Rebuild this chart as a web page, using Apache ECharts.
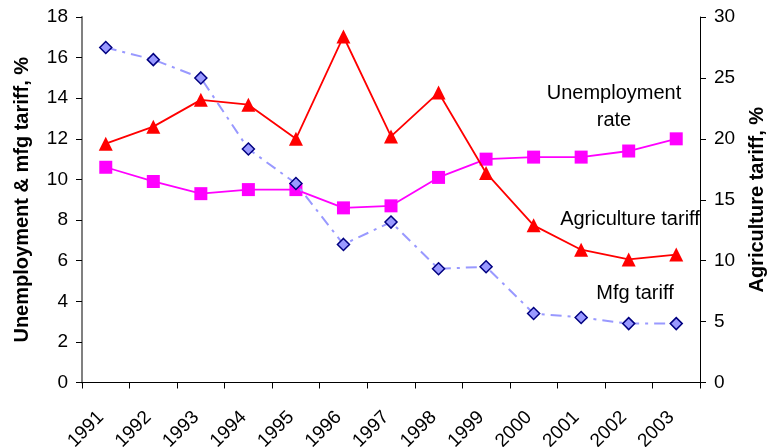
<!DOCTYPE html>
<html>
<head>
<meta charset="utf-8">
<script src="https://cdn.jsdelivr.net/npm/echarts@6/dist/echarts.min.js"></script>
<style>
  html, body { margin: 0; padding: 0; background: #fff; }
  #chart { width: 768px; height: 447px; }
</style>
</head>
<body>
<div id="chart"></div>
<script>
// Years on the category axis
const years = ['1991', '1992', '1993', '1994', '1995', '1996', '1997',
               '1998', '1999', '2000', '2001', '2002', '2003'];

// Unemployment rate, % (left axis)
const unemploymentRate = [10.6, 9.9, 9.3, 9.5, 9.5, 8.6, 8.7, 10.1, 11.0, 11.1, 11.1, 11.4, 12.0];

// Agriculture tariff, % (right axis)
const agricultureTariff = [19.6, 21.0, 23.2, 22.8, 20.0, 28.4, 20.2, 23.8, 17.2, 12.9, 10.9, 10.1, 10.5];

// Manufacturing tariff, % (left axis)
const mfgTariff = [16.5, 15.9, 15.0, 11.5, 9.8, 6.8, 7.9, 5.6, 5.7, 3.4, 3.2, 2.9, 2.9];

const FONT = '"Liberation Sans", Arial, sans-serif';

const chart = echarts.init(document.getElementById('chart'), null, { renderer: 'canvas' });

const tickLabel = { color: '#000', fontFamily: FONT, fontSize: 19, margin: 14 };

function noteText(text, x, y) {
  return {
    type: 'text',
    x: x,
    y: y,
    silent: true,
    style: {
      text: text,
      fill: '#000',
      font: '20px ' + FONT,
      align: 'center',
      verticalAlign: 'middle'
    }
  };
}

chart.setOption({
  backgroundColor: '#fff',
  animation: false,
  grid: {
    left: 82, right: 68, top: 17, bottom: 64.5,
    containLabel: false,
    outerBoundsMode: 'none'
  },
  xAxis: {
    type: 'category',
    data: years,
    boundaryGap: true,
    axisLine: { lineStyle: { color: '#000', width: 1 } },
    axisTick: { show: true, alignWithLabel: false, length: 6, lineStyle: { color: '#000' } },
    axisLabel: {
      color: '#000', fontFamily: FONT, fontSize: 19,
      rotate: 45, margin: 27, interval: 0,
      padding: [0, 7, 0, 0]
    },
    splitLine: { show: false }
  },
  yAxis: [
    {
      type: 'value',
      min: 0, max: 18, interval: 2,
      position: 'left',
      name: 'Unemployment & mfg tariff, %',
      nameLocation: 'middle',
      nameRotate: 90,
      nameGap: 50,
      nameTextStyle: { color: '#000', fontFamily: FONT, fontSize: 20, fontWeight: 'bold' },
      axisLine: { show: true, lineStyle: { color: '#808080', width: 2 } },
      axisTick: { show: true, length: 6, lineStyle: { color: '#000' } },
      axisLabel: tickLabel,
      splitLine: { show: false }
    },
    {
      type: 'value',
      min: 0, max: 30, interval: 5,
      position: 'right',
      name: 'Agriculture tariff, %',
      nameLocation: 'middle',
      nameRotate: 90,
      nameGap: 47,
      nameTextStyle: { color: '#000', fontFamily: FONT, fontSize: 20, fontWeight: 'bold' },
      axisLine: { show: true, lineStyle: { color: '#000', width: 1 } },
      axisTick: { show: true, length: 6, lineStyle: { color: '#000' } },
      axisLabel: tickLabel,
      splitLine: { show: false }
    }
  ],
  series: [
    {
      name: 'Unemployment rate',
      type: 'line',
      yAxisIndex: 0,
      data: unemploymentRate,
      symbol: 'rect',
      symbolSize: 13,
      itemStyle: { color: '#FF00FF' },
      lineStyle: { color: '#FF00FF', width: 1.8 },
      z: 2
    },
    {
      name: 'Agriculture tariff',
      type: 'line',
      yAxisIndex: 1,
      data: agricultureTariff,
      symbol: 'triangle',
      symbolSize: 14,
      itemStyle: { color: '#FF0000' },
      lineStyle: { color: '#FF0000', width: 1.8 },
      z: 3
    },
    {
      name: 'Mfg tariff',
      type: 'line',
      yAxisIndex: 0,
      data: mfgTariff,
      symbol: 'diamond',
      symbolSize: 12,
      itemStyle: { color: '#9999FF', borderColor: '#000080', borderWidth: 1.5 },
      lineStyle: { color: '#9999FF', width: 2, type: [11, 6, 3, 6] },
      z: 4
    }
  ],
  graphic: [
    noteText('Unemployment', 614, 93),
    noteText('rate', 614, 120),
    noteText('Agriculture tariff', 630, 219),
    noteText('Mfg tariff', 635, 293)
  ]
});
</script>
</body>
</html>
